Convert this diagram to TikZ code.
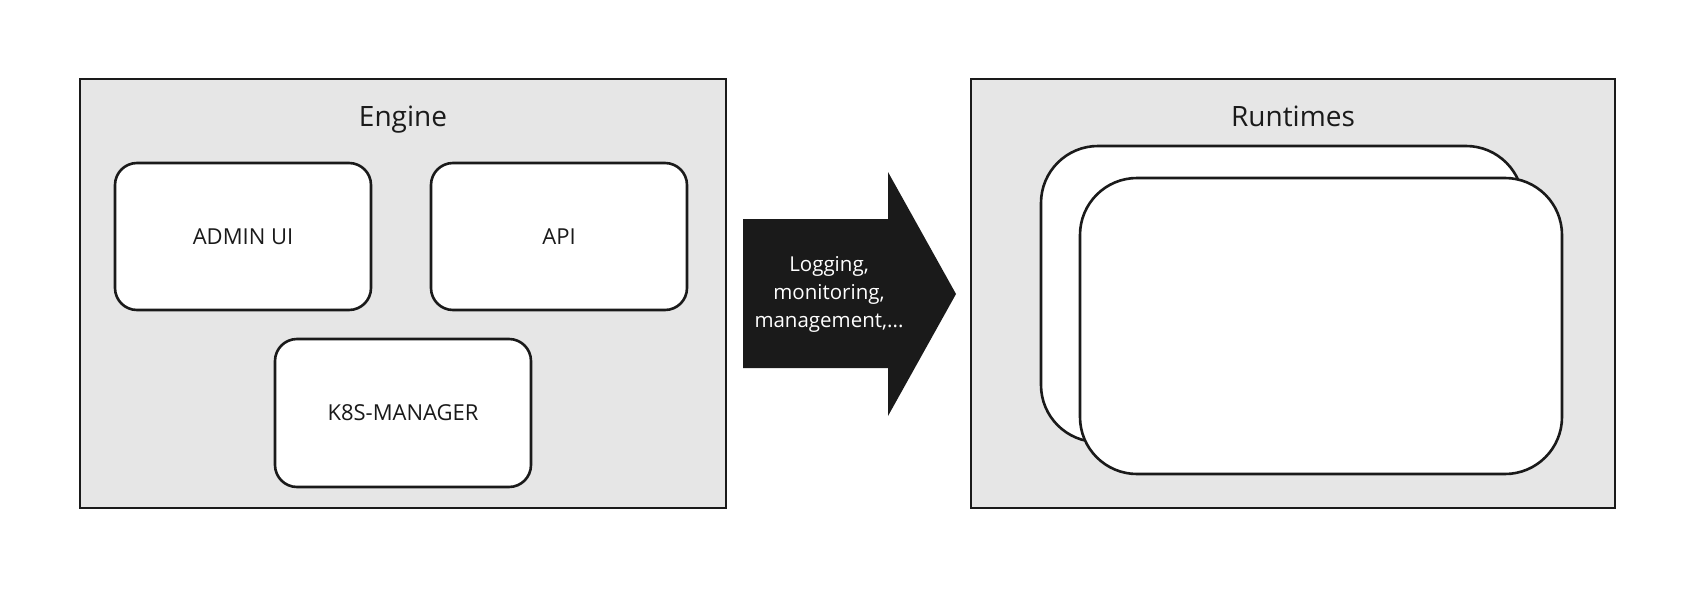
\documentclass[tikz,border=0pt]{standalone}
\usepackage{fontspec}
\setmainfont{Open Sans}
\definecolor{ink}{HTML}{1A1A1A}
\definecolor{panel}{HTML}{E6E6E6}
\tikzset{
  panelbox/.style={draw=ink, fill=panel, line width=2.6pt, rectangle, inner sep=0pt},
  compbox/.style={draw=ink, fill=white, line width=2.6pt, rectangle, rounded corners=22pt,
    minimum width=256pt, minimum height=147pt, text=ink, font=\fontsize{22}{26}\selectfont},
  runbox/.style={draw=ink, fill=white, line width=2.6pt, rectangle, rounded corners=57pt,
    minimum width=482pt, minimum height=296pt},
  title/.style={text=ink, font=\fontsize{28}{34}\selectfont, text height=20pt, text depth=0pt},
  arrowtext/.style={text=white, align=center, font=\fontsize{20.5}{28}\selectfont}
}
\begin{document}
\begin{tikzpicture}[x=1pt,y=-1pt]
\useasboundingbox (0,0) rectangle (1695,589);
% Engine panel
\node[panelbox, minimum width=646pt, minimum height=429pt] (engine) at (403,293.5) {};
\node[title] (enginetitle) at (403,116) {Engine};
\node[compbox] (admin) at (243,236.5) {ADMIN UI};
\node[compbox] (api) at (559,236.5) {API};
\node[compbox, minimum height=148pt] (k8s) at (403,413) {K8S-MANAGER};
% Runtimes panel
\node[panelbox, minimum width=644pt, minimum height=429pt] (runtimes) at (1293,293.5) {};
\node[title] (runtimestitle) at (1293,116) {Runtimes};
\node[runbox] (runback) at (1282,294) {};
\node[runbox] (runfront) at (1321,326) {};
% Arrow
\fill[ink] (743,219) -- (888,219) -- (888,172) -- (956,294) -- (888,416) -- (888,368) -- (743,368) -- cycle;
\node[arrowtext] (arrowlabel) at (829,294) {Logging,\\monitoring,\\management,...};
\end{tikzpicture}
\end{document}
